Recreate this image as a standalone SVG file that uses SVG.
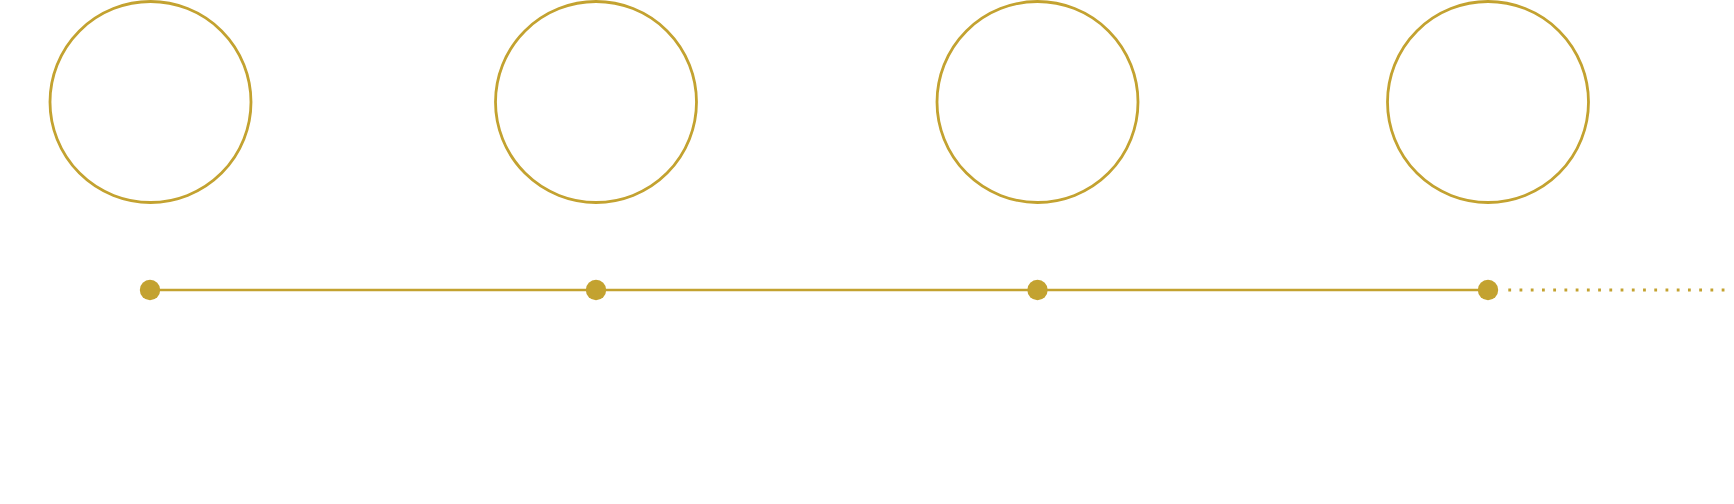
<svg xmlns="http://www.w3.org/2000/svg" width="1734" height="504" viewBox="0 0 1734 504">
<style>
.ring{fill:none;stroke:#C3A230;stroke-width:2.8}
.dot{fill:#C3A230}
.line{stroke:#C3A230;stroke-width:2.7;fill:none}
.dots{stroke:#C3A230;stroke-width:2.8;fill:none;stroke-dasharray:2.8 8.43}
</style>
<rect width="1734" height="504" fill="#ffffff"/>
<g id="connectors">
<line class="line" x1="150" y1="290" x2="1488" y2="290"/>
<line class="dots" x1="1508.3" y1="290" x2="1725" y2="290"/>
</g>
<g id="node1"><circle class="ring" cx="150.5" cy="102" r="100.5"/><circle class="dot" cx="150" cy="290" r="10.2"/></g>
<g id="node2"><circle class="ring" cx="596" cy="102" r="100.5"/><circle class="dot" cx="596" cy="290" r="10.2"/></g>
<g id="node3"><circle class="ring" cx="1037.5" cy="102" r="100.5"/><circle class="dot" cx="1037.5" cy="290" r="10.2"/></g>
<g id="node4"><circle class="ring" cx="1488" cy="102" r="100.5"/><circle class="dot" cx="1488" cy="290" r="10.2"/></g>
</svg>
